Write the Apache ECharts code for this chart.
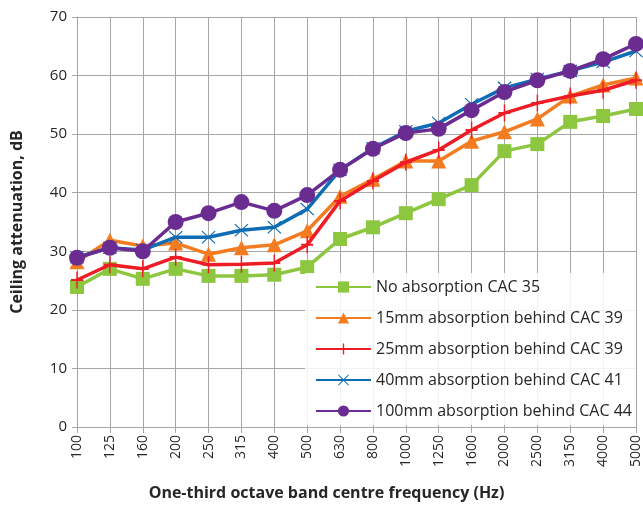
<!DOCTYPE html>
<html><head><meta charset="utf-8">
<script src="https://cdn.jsdelivr.net/npm/echarts@6/dist/echarts.min.js"></script>
<style>html,body{margin:0;padding:0;background:#fff}#c{width:643px;height:509px}</style>
</head><body><div id="c"></div>
<script>
var categories = ['100','125','160','200','250','315','400','500','630','800','1000','1250','1600','2000','2500','3150','4000','5000'];
var seriesNames = ['No absorption CAC 35','15mm absorption behind CAC 39','25mm absorption behind CAC 39','40mm absorption behind CAC 41','100mm absorption behind CAC 44'];
var noAbs = [23.9,27.0,25.3,27.0,25.8,25.8,26.0,27.3,32.1,34.1,36.5,38.9,41.3,47.1,48.3,52.1,53.1,54.3];
var abs15 = [28.2,31.9,30.9,31.4,29.5,30.6,31.1,33.5,39.4,42.3,45.4,45.4,48.8,50.4,52.6,56.5,58.4,59.6];
var abs25 = [25.1,27.7,27.0,29.0,27.7,27.8,28.0,31.1,38.6,42.0,45.2,47.3,50.7,53.6,55.3,56.5,57.5,59.2];
var abs40 = [29.0,30.6,30.2,32.4,32.4,33.6,34.1,37.2,43.9,47.6,50.5,51.9,55.1,57.9,59.4,60.8,62.3,64.2];
var abs100 = [28.9,30.6,30.0,35.0,36.5,38.4,36.9,39.6,43.9,47.5,50.2,50.9,54.1,57.2,59.2,60.8,62.8,65.4];
var colors = ['#8DC63F','#F47C20','#EE1C25','#0F6DB5','#6A2C91'];

var plusPath = 'path://M-1.2,-10 L1.2,-10 L1.2,-1.2 L10,-1.2 L10,1.2 L1.2,1.2 L1.2,10 L-1.2,10 L-1.2,1.2 L-10,1.2 L-10,-1.2 L-1.2,-1.2 Z';
var xPath = 'path://M-10,-8.8 L-8.8,-10 L0,-1.2 L8.8,-10 L10,-8.8 L1.2,0 L10,8.8 L8.8,10 L0,1.2 L-8.8,10 L-10,8.8 L-1.2,0 Z';
var symbols = ['rect','triangle',plusPath,xPath,'circle'];
var sizes = [14,15,[12,17],[14,13],16];
var dataSets = [noAbs,abs15,abs25,abs40,abs100];

var series = dataSets.map(function(d,i){
  return {
    name: seriesNames[i], type:'line', data:d,
    symbol: symbols[i], symbolSize: sizes[i], symbolKeepAspect:false,
    lineStyle:{color:colors[i], width:3.5},
    itemStyle:{color:colors[i]},
    z: 2+i, animation:false
  };
});

var chart = echarts.init(document.getElementById('c'));
chart.setOption({
  animation:false,
  grid:{left:77, right:6, top:17, bottom:82, containLabel:false},
  legend:{
    orient:'vertical', left:305, top:273,
    padding:[6,4,6,10],
    backgroundColor:'rgba(255,255,255,0.85)',
    itemWidth:55, itemHeight:14, itemGap:15,
    textStyle:{fontFamily:'Open Sans', fontSize:16, color:'#262626'},
    data: seriesNames
  },
  xAxis:{
    type:'category', data:categories, boundaryGap:false,
    name:'One-third octave band centre frequency (Hz)', nameLocation:'middle', nameGap:58,
    nameTextStyle:{fontFamily:'Open Sans', fontWeight:'bold', fontSize:16, color:'#262626', padding:[0,60,0,0]},
    axisLine:{lineStyle:{color:'#A6A6A6', width:1}},
    axisTick:{show:true, length:6, alignWithLabel:true, lineStyle:{color:'#A6A6A6'}},
    axisLabel:{rotate:90, fontFamily:'Open Sans', fontSize:14, color:'#262626', margin:8, interval:0},
    splitLine:{show:true, lineStyle:{color:'#A6A6A6', width:1}}
  },
  yAxis:{
    type:'value', min:0, max:70, interval:10,
    name:'Ceiling attenuation, dB', nameLocation:'middle', nameGap:52,
    nameTextStyle:{fontFamily:'Open Sans', fontWeight:'bold', fontSize:16, color:'#262626'},
    axisLine:{show:true, lineStyle:{color:'#A6A6A6', width:1}},
    axisTick:{show:true, length:5, lineStyle:{color:'#A6A6A6'}},
    axisLabel:{fontFamily:'Open Sans', fontSize:15, color:'#262626', margin:10},
    splitLine:{show:true, lineStyle:{color:'#A6A6A6', width:1}}
  },
  series: series
});
</script>
</body></html>
